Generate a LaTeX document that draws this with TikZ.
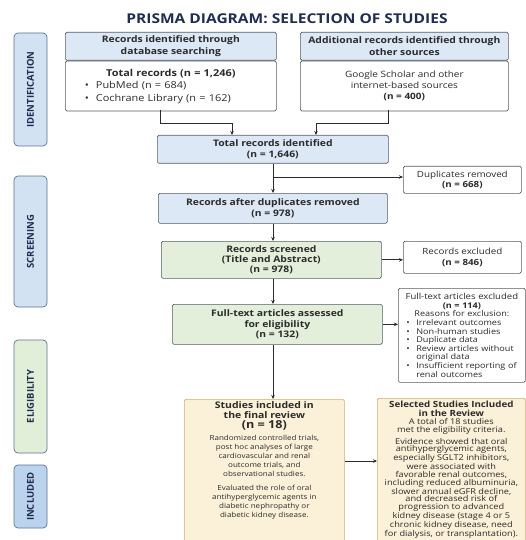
\documentclass[tikz,border=0pt]{standalone}
\usepackage{fontspec}
\setmainfont[FakeStretch=1.15]{Open Sans}
\newfontfamily\stagefont{Open Sans}
\usetikzlibrary{positioning,arrows.meta,calc}

\definecolor{navy}{HTML}{1F2D50}
\definecolor{boxblue}{HTML}{DCE8F5}
\definecolor{boxgreen}{HTML}{E3EFDB}
\definecolor{boxtan}{HTML}{FBF0D8}
\definecolor{tanedge}{HTML}{D2AD69}
\definecolor{stageblue}{HTML}{D2E2F3}
\definecolor{stagegreen}{HTML}{E1EED8}
\definecolor{stagedeep}{HTML}{BCD3EE}
\definecolor{stageedge}{HTML}{5A7396}
\definecolor{edgegray}{HTML}{565B63}
\definecolor{inkgray}{HTML}{2B2B2B}

\tikzset{
  box/.style={draw=edgegray, line width=0.7pt, rounded corners=1.5pt,
    align=center, inner sep=1pt, text=inkgray},
  bluebox/.style={box, fill=boxblue},
  greenbox/.style={box, fill=boxgreen},
  whitebox/.style={box, fill=white},
  tanbox/.style={box, draw=tanedge, fill=boxtan},
  stage/.style={draw=stageedge, line width=0.7pt, rounded corners=4pt,
    rotate=90, minimum height=33pt, text=navy,
    font=\stagefont\fontsize{9.5}{10}\selectfont\bfseries},
  flow/.style={draw=inkgray, line width=0.8pt,
    -{Stealth[length=4pt,width=3.5pt]}},
  boldtext/.style={font=\fontsize{9}{10.3}\selectfont\bfseries},
  plaintext/.style={font=\fontsize{8.5}{10.7}\selectfont},
  smalltext/.style={font=\fontsize{7.9}{8.6}\selectfont},
}

\newcommand{\exclitem}{\hangindent=17pt\hangafter=1\makebox[17pt][l]{\hspace{7pt}\textbullet}}

\begin{document}
\begin{tikzpicture}[x=1pt,y=-1pt]

	% ---- frame

	\useasboundingbox[fill=white] (0,0) rectangle (526,540);

	% ---- title

	\node[font=\fontsize{13.5}{15}\selectfont\bfseries, text=navy] (title)
		at (287,19) {PRISMA DIAGRAM: SELECTION OF STUDIES};

	% ---- stage labels

	\foreach \nm/\yc/\len/\col/\txt in {
		ident/89.5/113/stageblue/IDENTIFICATION,
		screen/241.5/131/stageblue/SCREENING,
		elig/396.5/113/stagegreen/ELIGIBILITY,
		incl/496.5/63/stagedeep/INCLUDED}
	{ \node[stage, fill=\col, minimum width=\len pt] (st-\nm) at (30.5,\yc) {\txt}; }

	% ---- identification

	\node[bluebox, font=\fontsize{9}{11.7}\selectfont\bfseries, minimum width=211pt,
		minimum height=28pt, anchor=north west]
		(dbhead) at (65,32) {Records identified through\\database searching};
	\node[whitebox, minimum width=211pt, minimum height=50pt, anchor=north,
		font=\fontsize{9.5}{12.5}\selectfont, text width=200pt, align=left]
		(dbbody) at (dbhead.south)
		{{\centering\textbf{Total records (n = 1,246)}\par}
		\hspace*{14pt}\textbullet\hspace{7pt}PubMed (n = 684)\par
		\hspace*{14pt}\textbullet\hspace{7pt}Cochrane Library (n = 162)};

	\node[bluebox, font=\fontsize{9}{11.7}\selectfont\bfseries, minimum width=208pt,
		minimum height=28pt, anchor=north west]
		(othead) at (300,32) {Additional records identified through\\other sources};
	\node[whitebox, minimum width=208pt, minimum height=50pt, anchor=north,
		font=\fontsize{8.7}{11}\selectfont]
		(otbody) at (othead.south)
		{Google Scholar and other\\internet-based sources\\\textbf{(n = 400)}};

	% ---- screening

	\node[bluebox, boldtext, minimum width=231pt, minimum height=28pt, anchor=north west]
		(total) at (157,135) {Total records identified\\(n = 1,646)};
	\node[whitebox, plaintext, minimum width=118pt, minimum height=27pt, anchor=north west]
		(dupl) at (403,166) {Duplicates removed\\\textbf{(n = 668)}};
	\node[bluebox, boldtext, minimum width=229pt, minimum height=30pt, anchor=north west]
		(afterdup) at (158,193) {Records after duplicates removed\\(n = 978)};
	\node[greenbox, boldtext, minimum width=220pt, minimum height=37pt, anchor=north west]
		(screened) at (161,241) {Records screened\\(Title and Abstract)\\(n = 978)};
	\node[whitebox, plaintext, minimum width=118pt, minimum height=32pt, anchor=north west]
		(excl) at (403,241) {Records excluded\\\textbf{(n = 846)}};

	% ---- eligibility

	\node[greenbox, boldtext, minimum width=210pt, minimum height=40pt, anchor=north west]
		(fulltext) at (172,304) {Full-text articles assessed\\for eligibility\\(n = 132)};
	\node[whitebox, smalltext, minimum width=127pt, minimum height=94pt, anchor=north west,
		text width=125pt, align=left]
		(ftexcl) at (398,288)
		{{\centering{\fontsize{8.3}{8.6}\selectfont Full-text articles excluded}\\
		\textbf{(n = 114)}\\Reasons for exclusion:\par}
		\exclitem Irrelevant outcomes\par
		\exclitem Non-human studies\par
		\exclitem Duplicate data\par
		\exclitem Review articles without\\\hspace*{17pt}original data\par
		\exclitem Insufficient reporting of\\\hspace*{17pt}renal outcomes};

	% ---- included

	\node[tanbox, anchor=north west, inner sep=0pt] (final) at (184,399)
		{\parbox[c][165pt][t]{160pt}{\centering\vspace{2pt}
		{\fontsize{9.1}{10}\selectfont\bfseries Studies included in\\the final review\\
		{\fontsize{11}{11.5}\selectfont (n = 18)}\par}
		\vspace{3pt}
		{\fontsize{7}{9}\selectfont Randomized controlled trials,\\post hoc analyses of large\\
		cardiovascular and renal\\outcome trials, and\\observational studies.\par
		\vspace{5pt}
		Evaluated the role of oral\\antihyperglycemic agents in\\diabetic nephropathy or\\
		diabetic kidney disease.\par}}};

	\node[tanbox, anchor=north west, inner sep=0pt] (selected) at (377,398)
		{\parbox[c][165pt][t]{148pt}{\centering\vspace{3pt}
		{\fontsize{8.5}{8.3}\selectfont\bfseries Selected Studies Included\\in the Review\par}
		\vspace{1pt}
		{\fontsize{8}{7.6}\selectfont A total of 18 studies\\met the eligibility criteria.\par
		\vspace{3pt}
		Evidence showed that oral\\antihyperglycemic agents,\\especially SGLT2 inhibitors,\\
		were associated with\\favorable renal outcomes,\\including reduced albuminuria,\\
		slower annual eGFR decline,\\and decreased risk of\\progression to advanced\\
		kidney disease (stage 4 or 5\\chronic kidney disease, need\\
		for dialysis, or transplantation).\par}}};

	% ---- connectors

	\coordinate (dbout) at (160,110);
	\coordinate (otout) at (388,110);
	\coordinate (joinL) at (232,123);
	\coordinate (joinR) at (316,123);
	\coordinate (split) at (273,177);

	\draw[flow] (dbout) |- (joinL) -- (joinL |- total.north);
	\draw[flow] (otout) |- (joinR) -- (joinR |- total.north);

	\draw[flow] (split |- total.south) -- (split |- afterdup.north);
	\draw[flow] (split) -- (split -| dupl.west);
	\draw[flow] (split |- afterdup.south) -- (split |- screened.north);
	\draw[flow] (screened.east) -- (screened.east -| excl.west);
	\draw[flow] (split |- screened.south) -- (split |- fulltext.north);
	\draw[flow] (fulltext.east) -- (fulltext.east -| ftexcl.west);
	\draw[flow] (split |- fulltext.south) -- (split |- final.north);
	\draw[flow] (final.east |- 0,461) -- (selected.west |- 0,461);

\end{tikzpicture}
\end{document}
